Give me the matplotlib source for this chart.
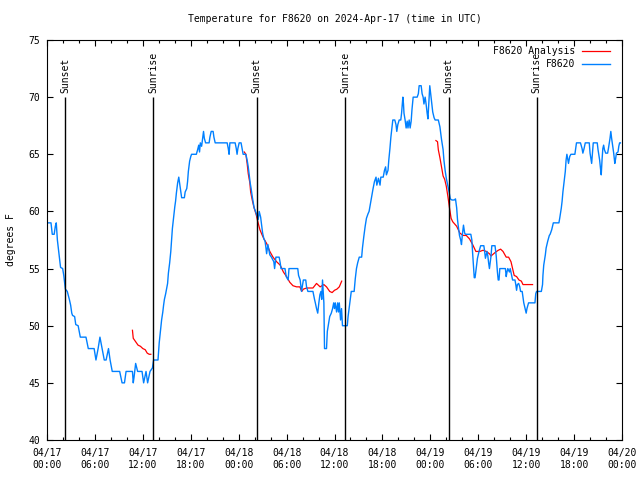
import datetime as dt

import matplotlib
matplotlib.use("Agg")
import matplotlib.pyplot as plt
import numpy as np

# hours since 2024-04-17 00:00 UTC
OBS_HOURS = [
    0.16, 0.5, 0.66, 0.9, 1.04, 1.16, 1.3, 1.46, 1.63, 1.7, 1.96, 2.1, 2.3, 2.54,
    2.8, 2.96, 3.1, 3.2, 3.46, 3.6, 3.9, 4.17, 4.88, 5.17, 5.9, 6.13, 6.4, 6.63,
    6.9, 7.17, 7.4, 7.7, 7.9, 8.17, 9.1, 9.4, 9.7, 9.9, 10.7, 10.8, 10.9, 11.1,
    11.35, 11.9, 12.1, 12.4, 12.6, 12.9, 13.2, 13.35, 13.9, 14.05, 14.2, 14.35,
    14.5, 14.6, 14.7, 14.86, 15.0, 15.1, 15.2, 15.36, 15.5, 15.6, 15.7, 15.86,
    16.0, 16.1, 16.2, 16.36, 16.5, 16.56, 16.7, 16.86, 17.2, 17.3, 17.5, 17.6,
    17.7, 17.86, 18.0, 18.1, 18.7, 18.86, 19.0, 19.1, 19.2, 19.36, 19.5, 19.6,
    19.7, 19.86, 20.3, 20.4, 20.56, 20.8, 20.9, 21.06, 22.56, 22.7, 22.8, 22.9,
    23.56, 23.7, 23.8, 23.9, 24.06, 24.3, 24.4, 24.56, 24.9, 25.06, 25.2, 25.3,
    25.44, 25.56, 25.7, 25.8, 25.94, 26.06, 26.25, 26.45, 26.57, 26.75, 26.87,
    27.0, 27.16, 27.3, 27.4, 27.5, 27.66, 27.8, 27.9, 28.1, 28.4, 28.5, 28.66,
    29.07, 29.2, 29.3, 29.8, 29.95, 30.2, 30.3, 31.4, 31.5, 31.7, 31.87, 32.0,
    32.1, 32.4, 32.5, 32.67, 33.3, 33.5, 33.6, 33.75, 33.9, 34.04, 34.17, 34.3,
    34.4, 34.5, 34.67, 34.75, 35.0, 35.1, 35.26, 35.4, 35.6, 35.76, 35.9, 36.0,
    36.1, 36.26, 36.4, 36.5, 36.6, 36.76, 36.88, 37.0, 37.6, 37.7, 37.83, 38.0,
    38.1, 38.46, 38.6, 38.75, 38.9, 39.1, 39.4, 39.5, 39.67, 39.84, 40.0, 40.2,
    40.33, 40.5, 40.68, 40.83, 41.0, 41.2, 41.3, 41.5, 41.7, 41.8, 42.1, 42.26,
    42.4, 42.5, 42.7, 42.8, 42.94, 43.06, 43.2, 43.3, 43.55, 43.7, 43.8, 43.93,
    44.1, 44.3, 44.4, 44.56, 44.64, 44.7, 44.84, 44.97, 45.1, 45.2, 45.35,
    45.47, 45.6, 45.7, 45.85, 46.35, 46.5, 46.6, 46.85, 46.97, 47.1, 47.2,
    47.35, 47.47, 47.6, 47.7, 47.85, 47.93, 48.06, 48.2, 48.3, 48.47, 48.6,
    49.0, 49.2, 49.4, 49.6, 49.7, 49.85, 50.0, 50.2, 50.35, 50.5, 50.7, 51.0,
    51.15, 51.3, 51.4, 51.5, 51.65, 51.8, 51.9, 52.0, 52.15, 52.3, 52.4, 53.07,
    53.2, 53.3, 53.4, 53.5, 53.6, 53.8, 53.9, 54.1, 54.3, 54.7, 54.8, 54.9,
    55.1, 55.2, 55.3, 55.4, 55.6, 55.7, 56.1, 56.25, 56.4, 56.5, 56.6, 56.7,
    57.4, 57.5, 57.6, 57.7, 57.9, 58.0, 58.15, 58.3, 58.6, 58.7, 58.8, 58.9,
    59.06, 59.2, 59.3, 59.5, 59.6, 59.7, 59.87, 60.0, 60.1, 60.3, 61.1, 61.2,
    61.3, 61.9, 62.05, 62.1, 62.2, 62.4, 62.5, 62.7, 62.9, 63.0, 63.2, 63.4,
    64.1, 64.2, 64.4, 64.5, 64.6, 64.75, 64.9, 65.0, 65.1, 65.2, 65.3, 65.45,
    65.6, 66.1, 66.2, 66.3, 66.8, 67.0, 67.1, 67.25, 67.4, 67.9, 68.0, 68.2,
    68.3, 68.4, 68.9, 69.0, 69.2, 69.3, 69.4, 69.5, 69.6, 69.7, 69.8, 69.96,
    70.2, 70.3, 70.5, 70.6, 70.7, 70.8, 70.96, 71.1, 71.2, 71.3, 71.5, 71.6,
    71.7, 71.8,
]
OBS_TEMPS = [
    59, 59, 58, 58, 58.7, 59, 57.5, 56.5, 55.5, 55.1, 55, 54.4, 53.2, 53,
    52.3, 51.8, 51.1, 50.9, 50.8, 50.1, 50, 49, 49, 48, 48, 47, 48, 49,
    48, 47, 47, 48, 47, 46, 46, 45, 45, 46, 46, 45, 45.5, 46.7,
    46, 46, 45, 46, 45, 46, 46.3, 47, 47, 48.5, 49.5, 50.5,
    51.2, 51.8, 52.3, 52.8, 53.3, 53.7, 54.6, 55.5, 56.5, 57.5, 58.5, 59.5,
    60.4, 60.9, 61.6, 62.5, 63, 62.7, 62, 61.2, 61.2, 61.7, 62, 62.6,
    63.5, 64.4, 64.8, 65, 65, 65.4, 65.8, 65.2, 66, 65.7, 66.5, 67,
    66.4, 66, 66, 66.5, 67, 67, 66.5, 66, 66, 65.5, 65, 66,
    66, 65.5, 65, 65.5, 66, 66, 65.6, 65, 65, 64.5, 63.9, 63.3,
    62.5, 62, 61.3, 60.9, 60.3, 60.1, 59.7, 59.3, 60, 59.5, 58.8,
    58.1, 57.6, 57.4, 56.9, 56.3, 57.1, 56.6, 56.2, 56, 55.6, 55, 56,
    56, 55.5, 55, 55, 54.3, 54, 55, 55, 54.4, 54, 53, 53.6,
    54, 54, 53.4, 53, 53, 52.3, 52, 51.5, 51.1, 52, 52.7, 53,
    52.3, 54, 52, 48, 48, 49.5, 50.2, 50.8, 51.1, 51.5, 52, 51.5,
    52, 51.2, 52, 51.2, 52, 50.5, 51.5, 50, 50, 50.8, 51.5, 52.4,
    53, 53, 54.1, 55, 55.5, 56, 56, 56.8, 57.8, 58.7, 59.4, 59.8,
    60, 60.7, 61.4, 62, 62.6, 63, 62.3, 62.9, 62.3, 63, 63, 63.6,
    63.9, 63.2, 63.6, 64.5, 65.5, 66.5, 67.4, 68, 68, 67.6, 67, 67.6,
    68, 68, 68.6, 70, 69.4, 68.6, 68, 67.3, 67.9, 67.3, 68,
    67.3, 67.9, 68.9, 70, 70, 70.3, 71, 71, 70.3, 70, 69.4,
    70, 69.4, 68.6, 68.1, 70, 71, 70.2, 69.4, 68.7, 68.2, 68,
    68, 67.4, 66.3, 65.4, 64.5, 63.6, 62.9, 62.2, 61.7, 61.1, 61, 61,
    61.1, 60.3, 59.3, 58.7, 57.9, 57.5, 57.1, 57.9, 58.8, 58.1, 58, 58,
    57.5, 56.3, 55.3, 54.2, 54.2, 55.3, 55.9, 56.5, 57, 57, 56.5, 55.9,
    56.5, 56.1, 55.5, 55, 56.1, 57, 57, 56.1, 54.7, 54, 54, 55,
    55, 54.3, 54.7, 55, 54.7, 55, 54.5, 54, 54, 53.6, 53.1, 53.6,
    53.7, 53.4, 53, 53, 52.5, 52, 51.5, 51.1, 51.5, 52, 52, 52.8,
    53, 53, 53.6, 54.4, 55.3, 56.2, 56.8, 57.4, 57.9, 58, 58.4, 59,
    59, 59.4, 60.3, 60.9, 61.7, 62.6, 63.5, 64.5, 65, 64.6, 64.2, 64.8,
    65, 65, 65.5, 66, 66, 65.5, 65.1, 65.5, 66, 66, 65.1, 64.2,
    65.1, 66, 66, 65.4, 64.5, 63.8, 63.2, 64.5, 65.5, 65.8, 65.4, 65.1,
    65.1, 65.5, 66.4, 67, 66.4, 65.9, 65.1, 64.2, 64.6, 65.1, 65.2, 65.7,
    66, 66,
]

# analysis runs, NaN separates the three runs
ANA_HOURS = [
    10.7, 10.8, 11.0, 11.4, 11.7, 12.0, 12.3, 12.55, 12.8, 13.0, np.nan,
    24.7, 24.9, 25.06, 25.2, 25.4, 25.5, 25.7, 25.9, 26.2, 26.4, 26.66, 26.9,
    27.16, 27.5, 27.9, 28.3, 28.75, 29.2, 29.6, 30.0, 30.4, 30.8, 31.25, 31.66,
    31.9, 32.1, 32.5, 32.9, 33.3, 33.75, 34.2, 34.67, 35.0, 35.4, 35.7, 36.0,
    36.3, 36.6, 36.9, np.nan,
    48.7, 48.9, 49.0, 49.2, 49.4, 49.6, 49.8, 50.0, 50.2, 50.4, 50.6, 50.8,
    51.3, 51.7, 52.1, 52.5, 52.9, 53.3, 53.7, 54.2, 54.6, 55.0, 55.4, 55.6,
    56.1, 56.5, 56.8, 57.1, 57.5, 57.8, 58.1, 58.3, 58.5, 58.8, 59.1, 59.4,
    59.6, 60.0, 60.4, 60.8,
]
ANA_TEMPS = [
    49.6, 48.9, 48.7, 48.3, 48.2, 48.0, 47.9, 47.6, 47.5, 47.5, np.nan,
    65.2, 65.0, 64.2, 63.3, 62.5, 61.7, 61.0, 60.4, 59.7, 59.1, 58.4, 58.0,
    57.6, 57.2, 56.5, 56.0, 55.6, 55.3, 54.7, 54.3, 53.8, 53.5, 53.4, 53.4,
    53.0, 53.2, 53.3, 53.3, 53.3, 53.7, 53.4, 53.6, 53.4, 53.0, 52.9, 53.1,
    53.2, 53.4, 53.9, np.nan,
    66.2, 66.1, 65.4, 64.7, 63.9, 63.1, 62.8, 62.2, 61.3, 60.3, 59.4, 59.1,
    58.7, 58.1, 57.9, 57.9, 57.6, 57.1, 56.5, 56.5, 56.6, 56.5, 56.3, 56.1,
    56.4, 56.6, 56.7, 56.5, 56.0, 56.0, 55.6, 55.0, 54.4, 54.3, 54.0, 53.9,
    53.6, 53.6, 53.6, 53.6,
]

SUNSET_HOURS = [2.25, 26.27, 50.3]
SUNRISE_HOURS = [13.27, 37.3, 61.33]

START = dt.datetime(2024, 4, 17)
TICK_HOURS = list(range(0, 73, 6))

plt.rcParams["font.family"] = "DejaVu Sans Mono"
plt.rcParams["font.size"] = 7

fig = plt.figure(figsize=(6.4, 4.8), dpi=100)
ax = fig.add_axes([47 / 640, 40 / 480, 575 / 640, 400 / 480])

ax.plot(ANA_HOURS, ANA_TEMPS, color="#ff0000", lw=0.9, label="F8620 Analysis")
ax.plot(OBS_HOURS, OBS_TEMPS, color="#0080ff", lw=1.0, label="F8620")

for h in SUNSET_HOURS:
    ax.vlines(h, 40, 70, color="black", lw=1.0)
    ax.text(h, 70.4, "Sunset", rotation=90, ha="center", va="bottom")
for h in SUNRISE_HOURS:
    ax.vlines(h, 40, 70, color="black", lw=1.0)
    ax.text(h, 70.4, "Sunrise", rotation=90, ha="center", va="bottom")

ax.set_xlim(0, 72)
ax.set_ylim(40, 75)
ax.set_xticks(TICK_HOURS)
ax.set_xticklabels([(START + dt.timedelta(hours=h)).strftime("%m/%d\n%H:%M") for h in TICK_HOURS])
ax.set_xticks(range(0, 73, 2), minor=True)
ax.set_yticks(range(40, 76, 5))
ax.tick_params(which="both", direction="in", top=True, right=True, width=0.8)
ax.tick_params(which="major", length=4)
ax.tick_params(which="minor", length=2.5)
ax.tick_params(axis="x", pad=6)
ax.tick_params(axis="y", pad=5)
for s in ax.spines.values():
    s.set_linewidth(0.8)

ax.set_ylabel("degrees F")
ax.yaxis.set_label_coords(-31 / 575, 0.5)
ax.set_title("Temperature for F8620 on 2024-Apr-17 (time in UTC)", fontsize=7, pad=13)

leg = ax.legend(loc="upper right", bbox_to_anchor=(563 / 575, 0.985), frameon=False,
                markerfirst=False, borderpad=0, borderaxespad=0,
                handlelength=2.9, handletextpad=0.7, labelspacing=0.35)

fig.savefig("out.png", dpi=100)
